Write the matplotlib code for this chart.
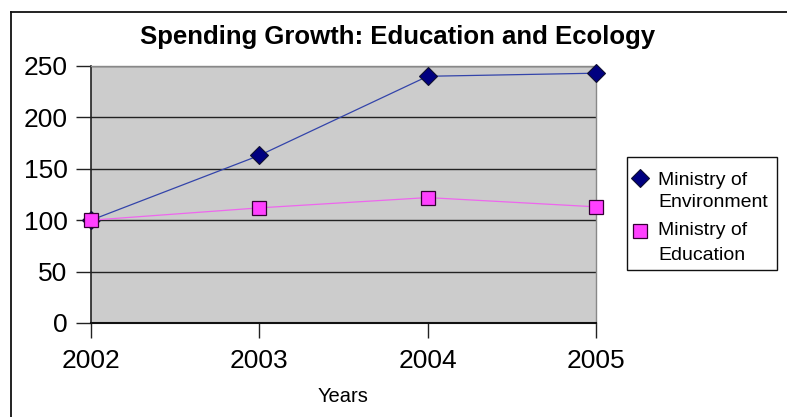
import matplotlib
matplotlib.use("Agg")
import matplotlib.pyplot as plt
from matplotlib.patches import Rectangle
from matplotlib.lines import Line2D

plt.rcParams['font.family'] = ['Liberation Sans', 'DejaVu Sans']

years = ["2002", "2003", "2004", "2005"]
environment = [100, 163, 240, 243]
education = [100, 112, 122, 113]
y_ticks = [0, 50, 100, 150, 200, 250]
series_names = [["Ministry of", "Environment"], ["Ministry of", "Education"]]

W, H = 787, 417
fig = plt.figure(figsize=(W / 100, H / 100), dpi=100)


def fx(px):
    return px / W


def fy(py):
    return 1 - py / H


# outer chart frame (top and left edges visible)
fig.add_artist(Line2D([fx(11), fx(11)], [0, fy(12)], transform=fig.transFigure,
                      color="#111111", lw=1.3))
fig.add_artist(Line2D([fx(11), 1], [fy(12), fy(12)], transform=fig.transFigure,
                      color="#111111", lw=1.3))

ax = fig.add_axes([fx(91), fy(323), 505 / W, 257 / H])
ax.set_facecolor("#cccccc")
x = list(range(len(years)))

env_style = dict(marker="D", markersize=9, markerfacecolor="#000080",
                 markeredgecolor="#101030", markeredgewidth=0.8)
edu_style = dict(marker="s", markersize=10, markerfacecolor="#ff40ff",
                 markeredgecolor="#330033", markeredgewidth=0.9)

ax.plot(x, environment, color="#3344aa", lw=0.9, zorder=3, clip_on=False, **env_style)
ax.plot(x, education, color="#ee66ee", lw=0.9, zorder=4, clip_on=False, **edu_style)

ax.set_xlim(0, 3)
ax.set_ylim(0, 250)
ax.set_xticks(x)
ax.set_xticklabels(years)
ax.set_yticks(y_ticks)
ax.yaxis.grid(True, color="#222222", lw=1.0)
ax.set_axisbelow(True)
ax.tick_params(axis="both", direction="out", length=11, width=1.0, color="#222222",
               labelsize=19, pad=6)
ax.tick_params(axis="x", pad=8)

for s in ("top", "right"):
    ax.spines[s].set_color("#888888")
    ax.spines[s].set_linewidth(1.0)
ax.spines["left"].set_color("#222222")
ax.spines["left"].set_linewidth(1.2)
ax.spines["bottom"].set_color("#111111")
ax.spines["bottom"].set_linewidth(1.5)

fig.text(fx(398), fy(37), "Spending Growth: Education and Ecology",
         ha="center", va="center", fontsize=18.5, fontweight="bold")
fig.text(fx(343), fy(397), "Years", ha="center", va="center", fontsize=14.5)

# legend box
fig.add_artist(Rectangle((fx(627), fy(270)), 150 / W, 113 / H, transform=fig.transFigure,
                         facecolor="white", edgecolor="#111111", lw=1.0))
legend_rows = [(178, 185, 207, env_style), (231, 235, 260, edu_style)]
for (my, b1, b2, style), lines in zip(legend_rows, series_names):
    fig.add_artist(Line2D([fx(640)], [fy(my)], transform=fig.transFigure,
                          linestyle="none", **style))
    fig.text(fx(658), fy(b1), lines[0], ha="left", va="baseline", fontsize=14)
    fig.text(fx(658), fy(b2), lines[1], ha="left", va="baseline", fontsize=14)

fig.savefig("out.png", dpi=100)
